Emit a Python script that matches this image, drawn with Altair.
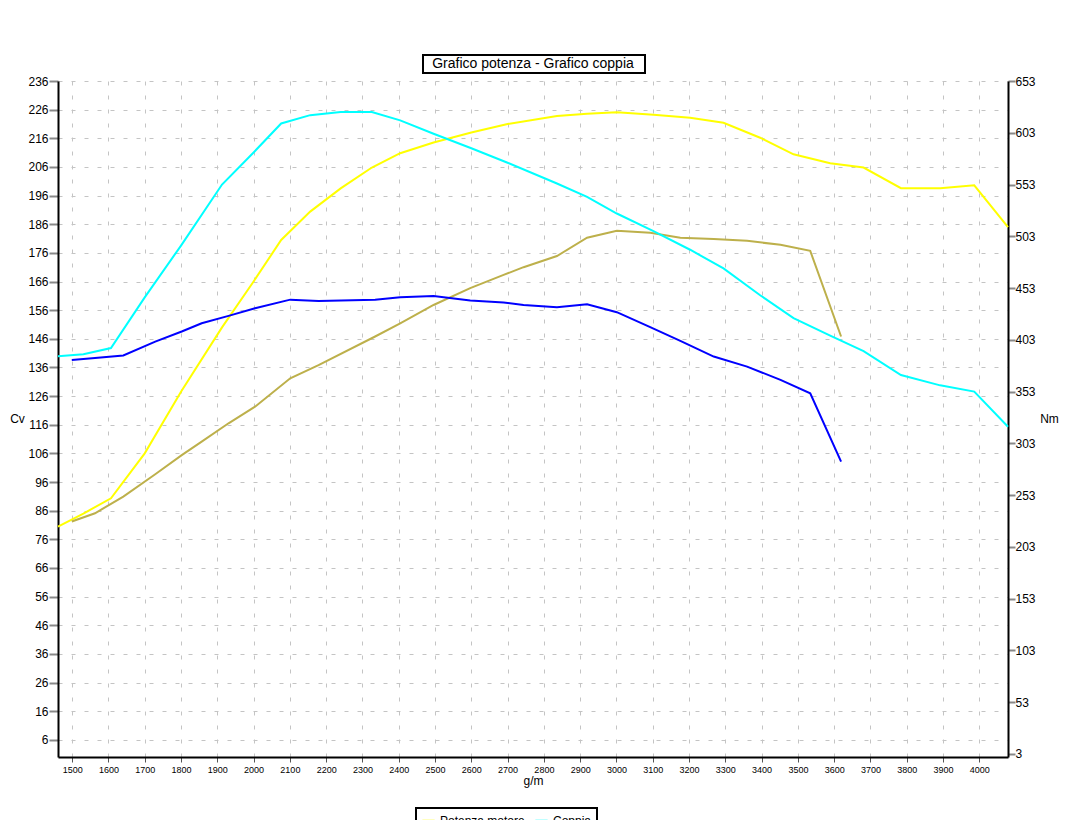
import altair as alt
import pandas as pd

# ---- data ----
rpm_a = [1461, 1531, 1607, 1700, 1800, 1913, 2000, 2076, 2156, 2240, 2326, 2404, 2496, 2600, 2700,
         2836, 2919, 3001, 3102, 3203, 3295, 3396, 3488, 3589, 3681, 3784, 3892, 3986, 4079]
potenza_motore = [80.4, 85.0, 90.3, 106.0, 127.5, 150.0, 166.0, 180.5, 190.4, 198.5, 205.8, 210.8, 214.5, 218.0, 221.0,
                  223.8, 224.6, 225.1, 224.2, 223.2, 221.4, 216.2, 210.4, 207.3, 205.8, 198.6, 198.6, 199.6, 185.0]
coppia = [387, 389, 395, 444, 494, 553, 584, 612, 620, 623, 623, 615, 602, 588, 574,
          554, 541, 525, 508, 490, 472, 446, 424, 407, 392, 369, 359, 353, 319]

rpm_b = [1499, 1563, 1641, 1729, 1802, 1857, 1931, 2004, 2101, 2179, 2335, 2404, 2496, 2597, 2689,
         2744, 2836, 2919, 3001, 3093, 3176, 3268, 3360, 3452, 3534, 3619]
coppia_2 = [383.6, 385.5, 387.8, 401.3, 411.0, 419.0, 426.1, 433.5, 441.8, 440.6, 441.8, 444.1, 445.4, 440.9, 439.0,
            436.7, 434.5, 437.4, 429.7, 415.2, 401.9, 386.8, 377.1, 364.3, 351.4, 285.3]
potenza_2 = [82.2, 85.1, 90.9, 98.7, 105.4, 110.1, 116.5, 122.3, 132.2, 136.8, 146.8, 151.4, 157.8, 163.7, 168.3,
             171.0, 174.9, 181.3, 183.7, 183.0, 181.3, 180.8, 180.2, 178.8, 176.7, 146.8]

x_ticks = list(range(1500, 4001, 100))
cv_ticks = list(range(6, 237, 10))
nm_ticks = list(range(3, 654, 50))
series_names = ["Potenza motore", "Coppia"]
series_colors = ["#ffff00", "#00ffff"]
chart_title = "Grafico potenza - Grafico coppia"

FONT = "Liberation Sans"

df_pot = pd.DataFrame({"rpm": rpm_a, "cv": potenza_motore, "serie": series_names[0]})
df_cop = pd.DataFrame({"rpm": rpm_a, "nm": coppia, "serie": series_names[1]})
df_pot2 = pd.DataFrame({"rpm": rpm_b, "cv": potenza_2})
df_cop2 = pd.DataFrame({"rpm": rpm_b, "nm": coppia_2})

x_axis = alt.Axis(values=x_ticks, format="d", title="g/m", labelFontSize=9, tickSize=5, tickColor="#555",
                  grid=True, gridDash=[4, 10], gridColor="#c4c4c4", domainColor="black", domainWidth=2,
                  titleFontSize=12, titleFontWeight="normal", titlePadding=1, labelPadding=3,
                  labelFlush=False, labelOverlap=False)
x_enc = alt.X("rpm:Q", scale=alt.Scale(domain=[1461, 4079], nice=False, zero=False), axis=x_axis)

left_scale = alt.Scale(domain=[0, 236], nice=False, zero=False)
left_axis = alt.Axis(orient="left", values=cv_ticks, title="Cv", titleAngle=0, titleX=-41, titleY=337,
                     titleAlign="center", titleBaseline="middle", titleFontSize=12, titleFontWeight="normal",
                     labelFontSize=12, tickSize=9, tickWidth=2, tickColor="#888", labelPadding=1,
                     grid=True, gridDash=[4, 9], gridColor="#c4c4c4", domainColor="black", domainWidth=2,
                     labelOverlap=False)
right_scale = alt.Scale(domain=[0, 653], nice=False, zero=False)
right_axis = alt.Axis(orient="right", values=nm_ticks, title="Nm", titleAngle=0, titleX=41, titleY=337,
                      titleAlign="center", titleBaseline="middle", titleFontSize=12, titleFontWeight="normal",
                      labelFontSize=12, tickSize=7, tickWidth=2, tickColor="#888", labelPadding=0,
                      grid=False, domainColor="black", domainWidth=2, labelOverlap=False)

color_enc = alt.Color("serie:N", scale=alt.Scale(domain=series_names, range=series_colors),
                      legend=alt.Legend(orient="none", legendX=358, legendY=727, direction="horizontal",
                                        title=None, symbolType="stroke", symbolStrokeWidth=2, symbolSize=150,
                                        labelFontSize=12, strokeColor="black", fillColor="white",
                                        padding=5, columnPadding=6, labelFont=FONT))

yellow = alt.Chart(df_pot).mark_line(strokeWidth=2, clip=False).encode(
    x=x_enc, y=alt.Y("cv:Q", scale=left_scale, axis=left_axis), color=color_enc)
olive = alt.Chart(df_pot2).mark_line(strokeWidth=2, color="#bdb04b", clip=False).encode(
    x=x_enc, y=alt.Y("cv:Q", scale=left_scale, axis=left_axis))
cyan = alt.Chart(df_cop).mark_line(strokeWidth=2, clip=False).encode(
    x=x_enc, y=alt.Y("nm:Q", scale=right_scale, axis=right_axis), color=color_enc)
blue = alt.Chart(df_cop2).mark_line(strokeWidth=2, color="#0000ff", clip=False).encode(
    x=x_enc, y=alt.Y("nm:Q", scale=right_scale, axis=right_axis))

left = alt.layer(yellow, olive)
right = alt.layer(cyan, blue)

title_df = pd.DataFrame({"t": [chart_title]})
box = alt.Chart(title_df).mark_rect(fill="white", stroke="black", strokeWidth=2).encode(
    x=alt.value(365), x2=alt.value(587), y=alt.value(-26), y2=alt.value(-8))
ttl = alt.Chart(title_df).mark_text(fontSize=14, font=FONT, align="center", baseline="middle",
                                    color="black").encode(
    x=alt.value(475), y=alt.value(-17), text="t:N")

chart = alt.layer(left, right, box, ttl).resolve_scale(y="independent").properties(
    width=950, height=676,
    padding={"left": 50, "top": 73, "right": 52, "bottom": 63},
    autosize=alt.AutoSizeParams(type="none"),
    background="white",
).configure_view(stroke=None).configure_axis(
    labelFont=FONT, titleFont=FONT, labelColor="black", titleColor="black"
).configure_legend(strokeWidth=2)

chart.save("out.html", embed_options={"renderer": "svg", "actions": False})
